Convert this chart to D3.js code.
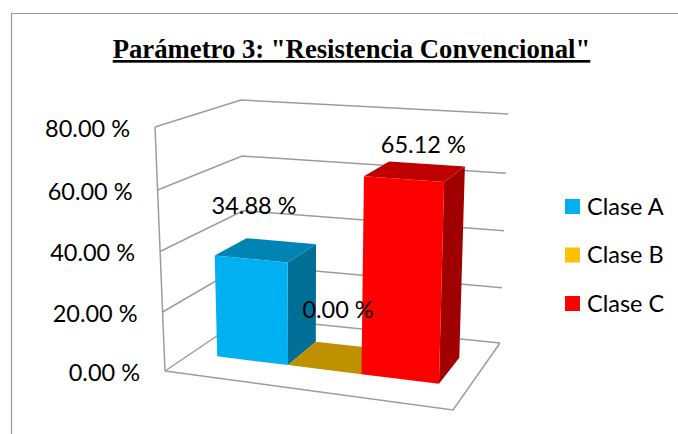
<!DOCTYPE html>
<html><head><meta charset="utf-8">
<script src="https://cdn.jsdelivr.net/npm/d3@7"></script>
<style>html,body{margin:0;padding:0;background:#fff}svg{display:block}text{fill:#000}</style>
</head><body><svg id="c" width="678" height="434"></svg>
<script>
const chartTitle = 'Parámetro 3: "Resistencia Convencional"';
const categories = ["Clase A", "Clase B", "Clase C"];
const values = [34.88, 0, 65.12];
const colors = ["#00B0F0", "#FFC000", "#FF0000"];
const tickValues = [0, 20, 40, 60, 80];
const fmt = v => d3.format(".2f")(v) + " %";

const W = 678, H = 434;
const svg = d3.select("#c");

// Projective map of the unit square to a quad: p0 front-left, p1 front-right, p2 back-right, p3 back-left
function quadMap(p0, p1, p2, p3) {
  const dx1 = p1[0]-p2[0], dy1 = p1[1]-p2[1], dx2 = p3[0]-p2[0], dy2 = p3[1]-p2[1];
  const sx = p0[0]-p1[0]+p2[0]-p3[0], sy = p0[1]-p1[1]+p2[1]-p3[1];
  const det = dx1*dy2 - dx2*dy1;
  const g = (sx*dy2 - dx2*sy)/det, h = (dx1*sy - sx*dy1)/det;
  const a = p1[0]-p0[0]+g*p1[0], b = p3[0]-p0[0]+h*p3[0], c = p0[0];
  const d = p1[1]-p0[1]+g*p1[1], e = p3[1]-p0[1]+h*p3[1], f = p0[1];
  return (u, w) => { const q = g*u+h*w+1; return [(a*u+b*w+c)/q, (d*u+e*w+f)/q]; };
}
const floorMap = quadMap([165,371],[453,410],[500,343],[245,317]);
const ceilMap  = quadMap([155,127],[460,147],[508,114],[241,100]);

const y = d3.scaleLinear().domain(tickValues).range([0, .2418, .4898, .7418, 1]);
const x = d3.scaleLinear().domain([0,1,2,3]).range([.105, .38, .645, .905]);
const zFront = .3, zBack = .7;

function P(u, v, w) {
  const a = floorMap(u, w), b = ceilMap(u, w), t = y(v);
  return [a[0]+(b[0]-a[0])*t, a[1]+(b[1]-a[1])*t];
}
const line = d3.line();
const closed = pts => line(pts) + "Z";
const shade = (c, k) => { const r = d3.rgb(c); return d3.rgb(r.r*k, r.g*k, r.b*k).formatHex(); };

// chart frame
const grid = "#9C9C9C";
svg.append("path").attr("d", `M11.5 ${H}V13.5H${W}`).attr("fill","none").attr("stroke","#999").attr("stroke-width",1.2);

// title
svg.append("text").attr("x",351.5).attr("y",58).attr("text-anchor","middle")
  .attr("font-family","'Liberation Serif'").attr("font-weight","bold").attr("font-size",26.7)
  .attr("text-decoration","underline").style("text-decoration-thickness","2.5px").text(chartTitle);

// walls and floor
const gg = svg.append("g").attr("fill","none").attr("stroke",grid).attr("stroke-width",1.5);
gg.selectAll("path.g").data(tickValues).join("path").attr("class","g")
  .attr("d", v => line([P(0,v,0),P(0,v,1),P(1,v,1)]));
gg.append("path").attr("d", line([P(0,0,0),P(0,80,0)]));
gg.append("path").attr("d", line([P(0,0,0),P(1,0,0),P(1,0,1)]));

// bars
const bars = svg.append("g").selectAll("g").data(categories).join("g");
bars.each(function(cat, i) {
  const g = d3.select(this), v = values[i], c = colors[i];
  const u0 = x(i), u1 = x(i+1);
  if (v > 0) g.append("path").attr("fill", shade(c,.63))
    .attr("d", closed([P(u1,0,zFront),P(u1,0,zBack),P(u1,v,zBack),P(u1,v,zFront)]));
  g.append("path").attr("fill", shade(c,.75))
    .attr("d", closed([P(u0,v,zFront),P(u1,v,zFront),P(u1,v,zBack),P(u0,v,zBack)]));
  if (v > 0) g.append("path").attr("fill", c)
    .attr("d", closed([P(u0,0,zFront),P(u1,0,zFront),P(u1,v,zFront),P(u0,v,zFront)]));
});

const sans = "Lato", sansSize = 23.5;
// tick labels
svg.append("g").selectAll("text").data(tickValues).join("text")
  .attr("x", v => P(0,v,0)[0]-25).attr("y", v => P(0,v,0)[1]+10)
  .attr("text-anchor","end").attr("font-family",sans).attr("font-size",sansSize).text(fmt);

// value labels
const labelShift = [[-12,-36],[0.5,-39],[8,-18]];
const labelAt = i => P((x(i)+x(i+1))/2, values[i], .5);
svg.append("g").selectAll("text").data(categories).join("text")
  .attr("x", (c,i) => labelAt(i)[0]+labelShift[i][0])
  .attr("y", (c,i) => labelAt(i)[1]+labelShift[i][1])
  .attr("text-anchor","middle").attr("font-family",sans).attr("font-size",sansSize)
  .text((c,i) => fmt(values[i]));

// legend
const legendY = d3.scalePoint().domain(categories).range([199,296]);
const lg = svg.append("g").selectAll("g").data(categories).join("g")
  .attr("transform", c => `translate(565,${legendY(c)})`);
lg.append("rect").attr("width",15).attr("height",15).attr("fill",(c,i)=>colors[i]);
lg.append("text").attr("x",22).attr("y",15.5).attr("font-family",sans).attr("font-size",sansSize).text(c=>c);
</script></body></html>
